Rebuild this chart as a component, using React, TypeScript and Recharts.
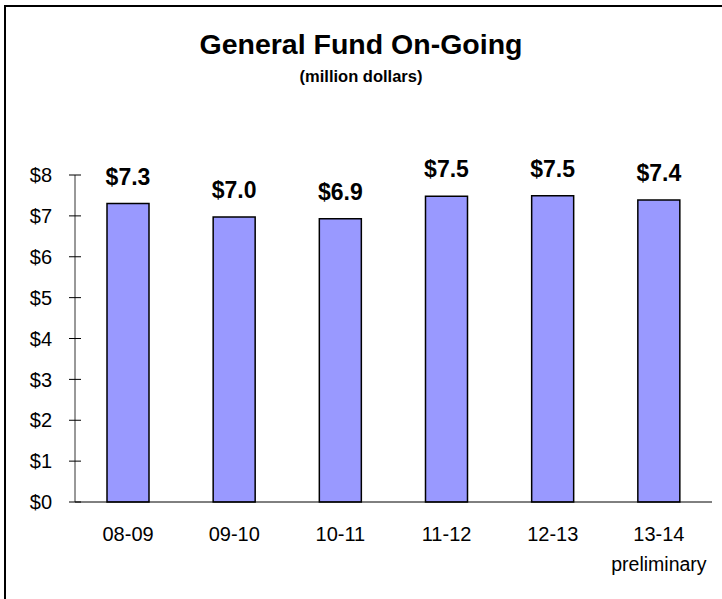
import { Bar, BarChart, LabelList, XAxis, YAxis } from "recharts";

// Fiscal years and on-going general fund totals (million dollars).
const years = ["08-09", "09-10", "10-11", "11-12", "12-13", "13-14"];
const yearNotes = ["", "", "", "", "", "preliminary"];
const fund = [7.3, 6.97, 6.93, 7.48, 7.49, 7.39];
const yTicks = [0, 1, 2, 3, 4, 5, 6, 7, 8];

const FONT = '"Liberation Sans", Arial, sans-serif';
const BAR = "#9999ff";
const AXIS_X = 75;

const rows = years.map((year, i) => ({ year, note: yearNotes[i], value: fund[i] }));

function YTick({ y, payload }: any) {
  return (
    <g>
      <line x1={AXIS_X - 6} x2={AXIS_X + 6} y1={y} y2={y} stroke="#000" />
      <text x={52} y={y} dy="0.36em" textAnchor="end" fontSize={20} fill="#000" fontFamily={FONT}>
        ${payload.value}
      </text>
    </g>
  );
}

function XTick({ x, y, payload, index }: any) {
  const note = yearNotes[index];
  return (
    <g>
      <text x={x} y={y + 31} textAnchor="middle" fontSize={20} fill="#000" fontFamily={FONT}>
        {payload.value}
      </text>
      {note ? (
        <text x={x} y={y + 61} textAnchor="middle" fontSize={19.5} fill="#000" fontFamily={FONT}>
          {note}
        </text>
      ) : null}
    </g>
  );
}

export default function App() {
  return (
    <div
      style={{
        position: "absolute",
        left: 0,
        top: 0,
        width: 722,
        height: 599,
        overflow: "hidden",
        background: "#fff",
        fontFamily: FONT,
      }}
    >
      <div
        style={{
          position: "absolute",
          left: 4,
          top: 5,
          width: 800,
          height: 700,
          borderLeft: "2px solid #000",
          borderTop: "2px solid #000",
        }}
      />
      <div
        style={{
          position: "absolute",
          top: 27,
          width: 722,
          textAlign: "center",
          fontWeight: "bold",
          fontSize: 28.5,
          lineHeight: "34px",
        }}
      >
        General Fund On-Going
      </div>
      <div
        style={{
          position: "absolute",
          top: 66,
          width: 722,
          textAlign: "center",
          fontWeight: "bold",
          fontSize: 16.5,
          lineHeight: "20px",
        }}
      >
        (million dollars)
      </div>
      <div style={{ position: "absolute", left: 0, top: 0 }}>
        <BarChart
          width={722}
          height={599}
          data={rows}
          margin={{ top: 175, right: 10, bottom: 0, left: 0 }}
        >
          <XAxis
            dataKey="year"
            axisLine={{ stroke: "#000" }}
            tickLine={false}
            tick={<XTick />}
            interval={0}
            height={97}
          />
          <YAxis
            width={AXIS_X}
            domain={[0, 8]}
            ticks={yTicks}
            interval={0}
            axisLine={{ stroke: "#333" }}
            tickLine={false}
            tick={<YTick />}
          />
          <Bar
            dataKey="value"
            fill={BAR}
            stroke="#000"
            strokeWidth={1.5}
            barSize={42}
            isAnimationActive={false}
          >
            <LabelList
              dataKey="value"
              position="top"
              offset={19}
              formatter={(v: any) => `$${Number(v).toFixed(1)}`}
              style={{ fontSize: 23, fontWeight: "bold", fill: "#000", fontFamily: FONT }}
            />
          </Bar>
        </BarChart>
      </div>
    </div>
  );
}
